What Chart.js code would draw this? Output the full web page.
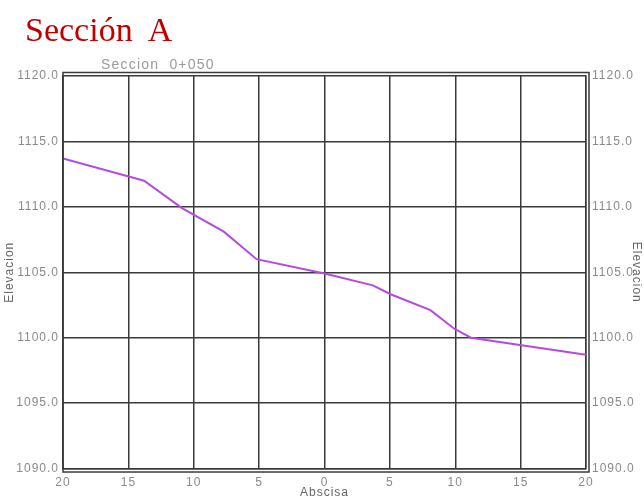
<!DOCTYPE html>
<html>
<head>
<meta charset="utf-8">
<script src="https://cdn.jsdelivr.net/npm/chart.js@4"></script>
<style>
  html, body { margin: 0; padding: 0; background: #fff; }
  #wrap { position: relative; width: 644px; height: 500px; }
  #title { position: absolute; left: 25px; top: 10px; font-family: "Liberation Serif", "Times New Roman", serif; font-size: 34px; color: #c00000; white-space: pre; line-height: 40px; }
  #sub { position: absolute; left: 101px; top: 56px; font-family: "Liberation Sans", Arial, sans-serif; font-size: 14px; letter-spacing: 1.2px; color: #9a9a9a; white-space: pre; line-height: 16px; }
  canvas { position: absolute; left: 0; top: 0; }
</style>
</head>
<body>
<div id="wrap">
  <canvas id="c" width="644" height="500"></canvas>
  <div id="title">Sección  A</div>
  <div id="sub">Seccion  0+050</div>
</div>
<script>
const abscisa = [-20, -13.8, -10.9, -7.7, -5.2, 0, 3.7, 5.1, 8.1, 9.9, 11.2, 20];
const elevacion = [1113.7, 1112.0, 1109.9, 1108.1, 1106.0, 1104.9, 1104.0, 1103.3, 1102.1, 1100.7, 1100.0, 1098.7];
const xTickValues = [-20, -15, -10, -5, 0, 5, 10, 15, 20];
const yTickValues = [1090, 1095, 1100, 1105, 1110, 1115, 1120];

const points = abscisa.map((x, i) => ({ x: x, y: elevacion[i] }));
const gridColor = '#3a3a3a';
const tickColor = '#8a8a8a';
const tickFont = { family: '"Liberation Sans", Arial, sans-serif', size: 12 };

const spacingPlugin = {
  id: 'spacing',
  beforeDraw(chart) { chart.ctx.letterSpacing = '1px'; }
};

const borderPlugin = {
  id: 'outerBox',
  afterDraw(chart) {
    const a = chart.chartArea, ctx = chart.ctx;
    ctx.save();
    ctx.strokeStyle = gridColor;
    ctx.lineWidth = 1.5;
    ctx.strokeRect(a.left, a.top - 3.5, a.right - a.left + 3, a.bottom - a.top + 7);
    ctx.restore();
  }
};

new Chart(document.getElementById('c'), {
  type: 'scatter',
  data: {
    datasets: [{
      data: points,
      showLine: true,
      borderColor: '#b44ae2',
      backgroundColor: '#b44ae2',
      borderWidth: 2,
      pointRadius: 0,
      tension: 0
    }]
  },
  plugins: [spacingPlugin, borderPlugin],
  options: {
    responsive: false,
    animation: false,
    layout: { padding: { top: 76, left: 0, right: 0, bottom: 0 } },
    plugins: { legend: { display: false }, tooltip: { enabled: false } },
    scales: {
      x: {
        type: 'linear',
        min: -20, max: 20,
        afterBuildTicks(s) { s.ticks = xTickValues.map(v => ({ value: v })); },
        afterFit(s) { s.height = 31.5; },
        ticks: { color: tickColor, font: tickFont, padding: 7, maxRotation: 0, callback: v => String(Math.abs(v)) },
        grid: { color: gridColor, lineWidth: 1.5, drawTicks: false },
        border: { color: gridColor, width: 1.5 },
        title: { display: true, text: 'Abscisa', color: '#666', font: tickFont, padding: { top: 0, bottom: 0 } }
      },
      y: {
        type: 'linear', position: 'left',
        min: 1090, max: 1120,
        afterBuildTicks(s) { s.ticks = yTickValues.map(v => ({ value: v })); },
        afterFit(s) { s.width = 63; },
        ticks: { color: tickColor, font: tickFont, padding: 4, callback: v => v.toFixed(1) },
        grid: { color: gridColor, lineWidth: 1.5, drawTicks: false },
        border: { color: gridColor, width: 1.5 },
        title: { display: true, text: 'Elevacion', color: '#666', font: tickFont, padding: { top: 2, bottom: 0 } }
      },
      y2: {
        type: 'linear', position: 'right',
        min: 1090, max: 1120,
        afterBuildTicks(s) { s.ticks = yTickValues.map(v => ({ value: v })); },
        afterFit(s) { s.width = 58; },
        ticks: { color: tickColor, font: tickFont, padding: 6, callback: v => v.toFixed(1) },
        grid: { display: false, drawTicks: false },
        border: { color: gridColor, width: 1.5 },
        title: { display: true, text: 'Elevacion', color: '#666', font: tickFont, padding: { top: 0, bottom: 2 } }
      }
    }
  }
});
</script>
</body>
</html>
